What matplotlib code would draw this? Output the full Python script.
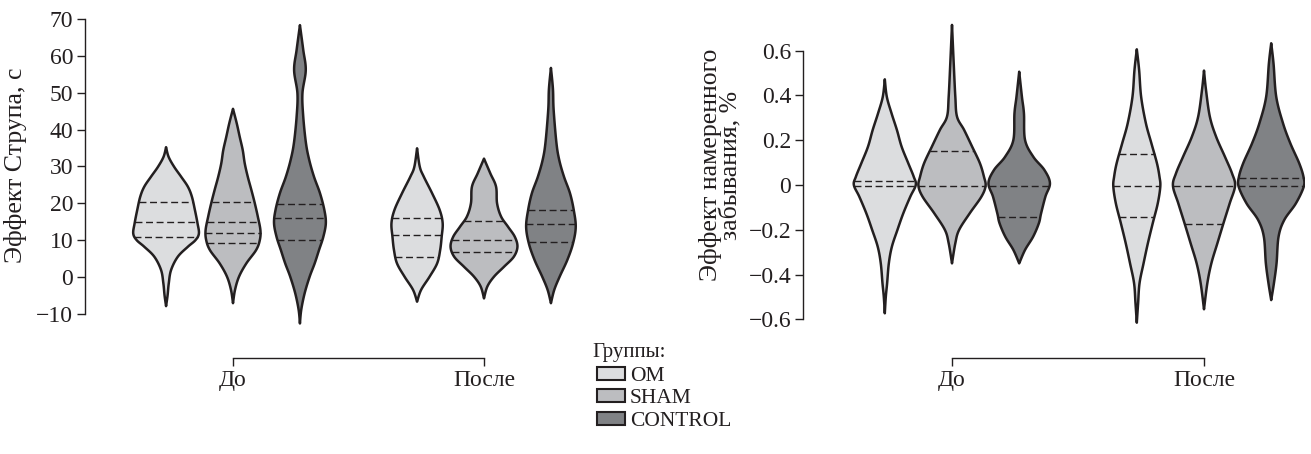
import numpy as np
import matplotlib
matplotlib.use("Agg")
import matplotlib.pyplot as plt
from matplotlib.patches import Patch

plt.rcParams["font.family"] = ["Liberation Serif", "DejaVu Serif"]
plt.rcParams["font.size"] = 17

INK = "#231f20"
GROUPS = ["OM", "SHAM", "CONTROL"]
FILLS = ["#dcdddf", "#bcbdc0", "#808285"]
PHASES = ["До", "После"]

# violin outlines: y level -> density (arbitrary units)
# --- Stroop effect, s
str_do_om_y = [-7.9, -5.0, -1.7, 1.9, 5.5, 8.2, 10.0, 11.8, 14.6, 18.2, 21.8, 24.5, 27.2, 29.9, 32.6, 35.2]
str_do_om_d = [0, 1.5, 2.7, 5, 11.7, 21.7, 29.3, 32.7, 31.3, 28.7, 25.7, 21.7, 15, 8, 2.5, 0]
str_do_sham_y = [-7.1, -3.5, 0.1, 3.7, 7.3, 10.0, 12.7, 16.4, 20.0, 23.6, 27.2, 30.8, 34.4, 38.0, 41.7, 45.6]
str_do_sham_d = [0, 2, 6, 13.3, 23, 26.7, 27.3, 24.7, 21.7, 18.3, 14.7, 11.7, 9.7, 6.7, 3.7, 0]
str_do_ctrl_y = [-12.6, -8.9, -4.4, 0.1, 3.7, 7.3, 10.9, 14.6, 18.2, 22.7, 27.2, 31.7, 36.3, 43.5, 49.8, 56.1, 61.6, 68.3]
str_do_ctrl_d = [0, 1.3, 4.7, 9.7, 14.7, 19, 23.3, 25.8, 24.3, 20, 14, 9.3, 6, 3.3, 2.5, 5.8, 3.3, 0]
str_po_om_y = [-6.7, -3.5, 0.1, 3.7, 7.3, 10.9, 14.6, 18.2, 22.7, 27.2, 29.9, 34.9]
str_po_om_d = [0, 4, 12.5, 20, 23, 24.5, 25.5, 22.5, 15, 6.7, 2.7, 0]
str_po_sham_y = [-5.8, -2.6, 0.1, 2.8, 5.5, 8.2, 10.9, 13.6, 16.4, 20.0, 24.5, 28.1, 32.1]
str_po_sham_d = [0, 3.3, 10, 20, 29.7, 33.3, 30.7, 24, 17, 13, 12, 6.3, 0]
str_po_ctrl_y = [-7.1, -3.5, 0.1, 4.6, 9.1, 13.6, 18.2, 22.7, 27.2, 31.7, 36.3, 45.3, 51.0, 56.7]
str_po_ctrl_d = [0, 3.3, 8.7, 16.3, 22, 24.7, 22.7, 19, 13, 8.3, 5.5, 2.7, 2, 0]

str_quart = [[10.8, 15.0, 20.4], [9.2, 12.0, 15.0, 20.4], [10.0, 15.9, 19.8],
             [5.3, 11.4, 15.9], [6.8, 9.9, 15.2], [9.4, 14.3, 18.2]]

# --- directed forgetting effect, %
zab_do_om_y = [-0.573, -0.499, -0.439, -0.350, -0.276, -0.201, -0.127, -0.052, 0.0, 0.037, 0.097, 0.171, 0.246, 0.320, 0.394, 0.472]
zab_do_om_d = [0, 1, 2.3, 4, 7, 12.5, 18.3, 25.3, 30.7, 28.7, 23.3, 16.7, 12, 6.7, 2, 0]
zab_do_sham_y = [-0.350, -0.260, -0.201, -0.127, -0.052, -0.004, 0.037, 0.097, 0.171, 0.246, 0.305, 0.394, 0.543, 0.715]
zab_do_sham_d = [0, 3.3, 7, 17.5, 29.2, 33.3, 31.7, 27.7, 20, 12, 5, 3.3, 1.7, 0]
zab_do_ctrl_y = [-0.350, -0.290, -0.231, -0.171, -0.127, -0.052, 0.008, 0.067, 0.126, 0.201, 0.320, 0.394, 0.506]
zab_do_ctrl_d = [0, 5.8, 13.8, 19.5, 21.7, 26, 30.5, 25, 14, 5.8, 4.7, 2.7, 0]
zab_po_om_y = [-0.615, -0.528, -0.439, -0.350, -0.260, -0.171, -0.082, -0.007, 0.037, 0.097, 0.186, 0.276, 0.394, 0.514, 0.606]
zab_po_om_d = [0, 1.3, 2.7, 6.7, 11, 15.8, 20.8, 23.3, 22.5, 20, 14.5, 9, 4.3, 2.3, 0]
zab_po_sham_y = [-0.555, -0.439, -0.350, -0.260, -0.171, -0.082, -0.004, 0.052, 0.126, 0.216, 0.305, 0.424, 0.511]
zab_po_sham_d = [0, 3.3, 7.3, 13.3, 19.3, 25.5, 30.8, 27.8, 20.8, 12, 5.8, 2, 0]
zab_po_ctrl_y = [-0.514, -0.439, -0.350, -0.231, -0.156, -0.082, -0.007, 0.037, 0.097, 0.186, 0.276, 0.394, 0.543, 0.633]
zab_po_ctrl_d = [0, 2.7, 5.3, 7.3, 13, 24.5, 32.3, 32, 27.8, 19, 11.7, 5, 2.3, 0]

zab_quart = [[-0.004, 0.018], [-0.004, 0.153], [-0.141, -0.004],
             [-0.141, -0.004, 0.137], [-0.174, -0.004], [-0.004, 0.033]]

str_ticks = [-10, 0, 10, 20, 30, 40, 50, 60, 70]
zab_ticks = [-0.6, -0.4, -0.2, 0, 0.2, 0.4, 0.6]
zab_ticklabels = ["\u22120.6", "\u22120.4", "\u22120.2", "0", "0.2", "0.4", "0.6"]


def catmull(pts, n=14):
    pts = np.asarray(pts, float)
    P = np.vstack([pts[0], pts, pts[-1]])
    t = np.linspace(0, 1, n, endpoint=False)[:, None]
    out = []
    for i in range(1, len(P) - 2):
        p0, p1, p2, p3 = P[i - 1], P[i], P[i + 1], P[i + 2]
        out.append(0.5 * (2 * p1 + (-p0 + p2) * t + (2 * p0 - 5 * p1 + 4 * p2 - p3) * t ** 2
                          + (-p0 + 3 * p1 - 3 * p2 + p3) * t ** 3))
    out.append(P[-2][None])
    return np.vstack(out)


def violin(ax, cx, ys, ds, quart, color, scale):
    curve = catmull(np.column_stack([ds, ys]))
    w = np.clip(curve[:, 0], 0, None) * scale
    yy = curve[:, 1]
    xs = np.concatenate([cx + w, (cx - w)[::-1]])
    ys2 = np.concatenate([yy, yy[::-1]])
    ax.fill(xs, ys2, facecolor=color, edgecolor=INK, linewidth=1.8,
            joinstyle="round", zorder=2)
    order = np.argsort(yy)
    for q in quart:
        hw = np.interp(q, yy[order], w[order])
        ax.plot([cx - hw, cx + hw], [q, q], color=INK, lw=1.0,
                linestyle=(0, (5, 2.6)), zorder=3)


fig = plt.figure(figsize=(13.11, 4.54), dpi=100)
W, H = 1311, 454
axL = fig.add_axes([85 / W, 1 - 330 / H, (610 - 85) / W, (330 - 15) / H])
axR = fig.add_axes([803 / W, 1 - 330 / H, (1305 - 803) / W, (330 - 15) / H])

offs = [-0.8 / 3, 0, 0.8 / 3]
SC = 0.134 / 33.5

str_sets = [(str_do_om_y, str_do_om_d), (str_do_sham_y, str_do_sham_d), (str_do_ctrl_y, str_do_ctrl_d),
            (str_po_om_y, str_po_om_d), (str_po_sham_y, str_po_sham_d), (str_po_ctrl_y, str_po_ctrl_d)]
zab_sets = [(zab_do_om_y, zab_do_om_d), (zab_do_sham_y, zab_do_sham_d), (zab_do_ctrl_y, zab_do_ctrl_d),
            (zab_po_om_y, zab_po_om_d), (zab_po_sham_y, zab_po_sham_d), (zab_po_ctrl_y, zab_po_ctrl_d)]

for ax, sets, quarts in [(axL, str_sets, str_quart), (axR, zab_sets, zab_quart)]:
    for k, (ys, ds) in enumerate(sets):
        p, g = divmod(k, 3)
        violin(ax, p + offs[g], ys, ds, quarts[k], FILLS[g], SC)

axL.set_xlim(-(233 - 85) / 251, 1 + (610 - 484) / 251)
axL.set_ylim((277 - 330) / 3.6875, (277 - 15) / 3.6875)
axR.set_xlim(-(952 - 803) / 252, 1 + (1305 - 1204) / 252)
axR.set_ylim((185 - 330) / 223.9, (185 - 15) / 223.9)

axL.set_yticks(str_ticks)
axL.spines["left"].set_bounds(-10, 70)
axR.set_yticks(zab_ticks)
axR.set_yticklabels(zab_ticklabels)
axR.spines["left"].set_bounds(-0.6, 0.6)

for ax in (axL, axR):
    ax.set_xticks([0, 1])
    ax.set_xticklabels(PHASES)
    ax.spines["top"].set_visible(False)
    ax.spines["right"].set_visible(False)
    ax.spines["bottom"].set_position(("outward", 20))
    ax.spines["bottom"].set_bounds(0, 1)
    for s in ("left", "bottom"):
        ax.spines[s].set_linewidth(1.0)
        ax.spines[s].set_color(INK)
    ax.tick_params(length=5.5, width=1.0, color=INK, labelcolor=INK, pad=3)
    ax.patch.set_visible(False)

axL.set_ylabel("Эффект Струпа, с", color=INK, fontsize=18.5)
axL.yaxis.set_label_coords(-0.11, 0.524)
axR.set_ylabel("Эффект намеренного\nзабывания, %", color=INK, fontsize=18.5,
               linespacing=0.95)
axR.yaxis.set_label_coords(-0.12, 0.524)

fig.text(592 / W, 1 - 353 / H, "Группы:", fontsize=15, color=INK,
         ha="left", va="center")
handles = [Patch(facecolor=c, edgecolor=INK, linewidth=1.5) for c in FILLS]
leg = fig.legend(handles, GROUPS, loc="upper left",
                 bbox_to_anchor=(597 / W, 1 - 366.5 / H), frameon=False,
                 handlelength=1.3, handleheight=0.56, handletextpad=0.23,
                 labelspacing=0.17, borderpad=0, borderaxespad=0,
                 fontsize=15.5)
for t in leg.get_texts():
    t.set_color(INK)

fig.savefig("out.png", dpi=100)
